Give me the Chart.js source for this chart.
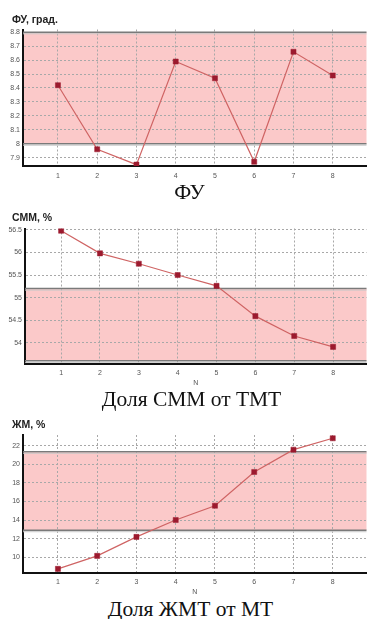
<!DOCTYPE html>
<html>
<head>
<meta charset="utf-8">
<script src="https://cdn.jsdelivr.net/npm/chart.js@4.4.1/dist/chart.umd.min.js"></script>
<style>
    body { margin: 0; background: #fff; width: 371px; height: 619px; position: relative; overflow: hidden; }
    .ttl { position: absolute; left: 12px; font: bold 10.5px "Liberation Sans", Arial, sans-serif; line-height: 10px; color: #222; }
    .cap { position: absolute; width: 371px; text-align: center; font: 21.5px "Liberation Serif", serif; line-height: 21.5px; color: #111; }
    .box { position: absolute; left: 0; width: 371px; }
</style>
</head>
<body>
<div class="box" style="top:24px;height:160px"><canvas id="fu"></canvas></div>
<div class="box" style="top:222px;height:166px"><canvas id="smm"></canvas></div>
<div class="box" style="top:429px;height:168px"><canvas id="zhm"></canvas></div>

<div class="ttl" style="top:13.5px">ФУ, град.</div>
<div class="ttl" style="top:211.5px">СММ, %</div>
<div class="ttl" style="top:419px">ЖМ, %</div>

<div class="cap" style="top:181.5px;left:4px">ФУ</div>
<div class="cap" style="top:388.5px;left:6px">Доля СММ от ТМТ</div>
<div class="cap" style="top:598.5px;left:5px">Доля ЖМТ от МТ</div>

<script>
// measurement numbers
const xTicks = [1, 2, 3, 4, 5, 6, 7, 8];

const fuValues = [8.42, 7.96, 7.85, 8.59, 8.47, 7.87, 8.66, 8.49];
const fuBand = [8.0, 8.8];
const fuTicks = [7.9, 8.0, 8.1, 8.2, 8.3, 8.4, 8.5, 8.6, 8.7, 8.8];

const smmValues = [56.48, 55.98, 55.75, 55.5, 55.26, 54.59, 54.15, 53.91];
const smmBand = [53.6, 55.2];
const smmTicks = [54, 54.5, 55, 55.5, 56, 56.5];

const zhmValues = [8.74, 10.14, 12.18, 14.0, 15.54, 19.17, 21.57, 22.8];
const zhmBand = [12.9, 21.35];
const zhmTicks = [10, 12, 14, 16, 18, 20, 22];

const BAND_FILL = "#fbc9c9";
const BAND_EDGE = "#7a7a7a";
const LINE_COLOR = "#cf6464";
const POINT_COLOR = "#9c1a2e";
const GRID_COLOR = "#a8a8a8";
const TICK_FONT = { family: "Liberation Sans, Arial, sans-serif", size: 7 };

// pink norm band, painted before the scales so the grid stays visible
const bandPlugin = {
    id: "normBand",
    beforeDraw(chart, args, opts) {
        const { ctx, chartArea, scales } = chart;
        const yTop = scales.y.getPixelForValue(opts.range[1]);
        const yBot = scales.y.getPixelForValue(opts.range[0]);
        ctx.save();
        ctx.fillStyle = BAND_FILL;
        ctx.fillRect(chartArea.left, yTop, chartArea.right - chartArea.left, yBot - yTop);
        ctx.restore();
    },
    beforeDatasetsDraw(chart, args, opts) {
        const { ctx, chartArea, scales } = chart;
        ctx.save();
        opts.range.forEach((v) => {
            const y = scales.y.getPixelForValue(v);
            ctx.strokeStyle = BAND_EDGE;
            ctx.lineWidth = 1.5;
            ctx.beginPath();
            ctx.moveTo(chartArea.left, y);
            ctx.lineTo(chartArea.right, y);
            ctx.stroke();
            ctx.strokeStyle = "#c8c8c8";
            ctx.lineWidth = 1;
            ctx.beginPath();
            ctx.moveTo(chartArea.left, y + 1.5);
            ctx.lineTo(chartArea.right, y + 1.5);
            ctx.stroke();
        });
        ctx.restore();
    },
};

function buildChart(id, values, band, yTicks, cfg) {
    const el = document.getElementById(id);
    return new Chart(el, {
        type: "line",
        data: {
            datasets: [
                {
                    data: values.map((v, i) => ({ x: xTicks[i], y: v })),
                    borderColor: LINE_COLOR,
                    borderWidth: 1.2,
                    pointStyle: "rect",
                    pointRadius: 3.6,
                    pointBackgroundColor: POINT_COLOR,
                    pointBorderColor: POINT_COLOR,
                    pointBorderWidth: 0.5,
                    tension: 0,
                },
            ],
        },
        options: {
            responsive: true,
            maintainAspectRatio: false,
            animation: false,
            layout: { padding: { top: cfg.padTop, left: 0, right: 0, bottom: 0 } },
            plugins: {
                legend: { display: false },
                tooltip: { enabled: false },
                normBand: { range: band },
            },
            scales: {
                x: {
                    type: "linear",
                    min: cfg.xMin,
                    max: cfg.xMax,
                    afterBuildTicks: (s) => { s.ticks = xTicks.map((v) => ({ value: v })); },
                    afterFit: (s) => { s.height = cfg.xHeight; s.paddingLeft = 0; s.paddingRight = 0; },
                    grid: { color: GRID_COLOR, drawTicks: false, lineWidth: 1 },
                    border: { display: true, color: "#111", width: 2, dash: [2, 2] },
                    ticks: { font: TICK_FONT, color: "#555", padding: cfg.xPad, maxRotation: 0 },
                    title: {
                        display: !!cfg.xTitle,
                        text: cfg.xTitle || "",
                        font: TICK_FONT,
                        color: "#555",
                        padding: { top: 0, bottom: 1 },
                    },
                },
                y: {
                    min: cfg.yMin,
                    max: cfg.yMax,
                    afterBuildTicks: (s) => { s.ticks = yTicks.map((v) => ({ value: v })); },
                    afterFit: (s) => { s.width = cfg.yWidth; s.paddingTop = 0; s.paddingBottom = 0; },
                    grid: { color: GRID_COLOR, drawTicks: false, lineWidth: 1 },
                    border: { display: true, color: "#111", width: 2, dash: [2, 2] },
                    ticks: {
                        font: TICK_FONT,
                        color: "#555",
                        padding: 3,
                        callback: (v) => String(Math.round(v * 100) / 100),
                    },
                },
            },
        },
        plugins: [bandPlugin],
    });
}

buildChart("fu", fuValues, fuBand, fuTicks, {
    padTop: 5.5, xHeight: 18, xPad: 6, yWidth: 23,
    xMin: 0.11, xMax: 8.86, yMin: 7.84, yMax: 8.82,
});
buildChart("smm", smmValues, smmBand, smmTicks, {
    padTop: 6.5, xHeight: 24, xPad: 5, yWidth: 25, xTitle: "N",
    xMin: 0.07, xMax: 8.86, yMin: 53.53, yMax: 56.53,
});
buildChart("zhm", zhmValues, zhmBand, zhmTicks, {
    padTop: 6, xHeight: 24.5, xPad: 5, yWidth: 23, xTitle: "N",
    xMin: 0.11, xMax: 8.86, yMin: 8.35, yMax: 23.15,
});
</script>
</body>
</html>
